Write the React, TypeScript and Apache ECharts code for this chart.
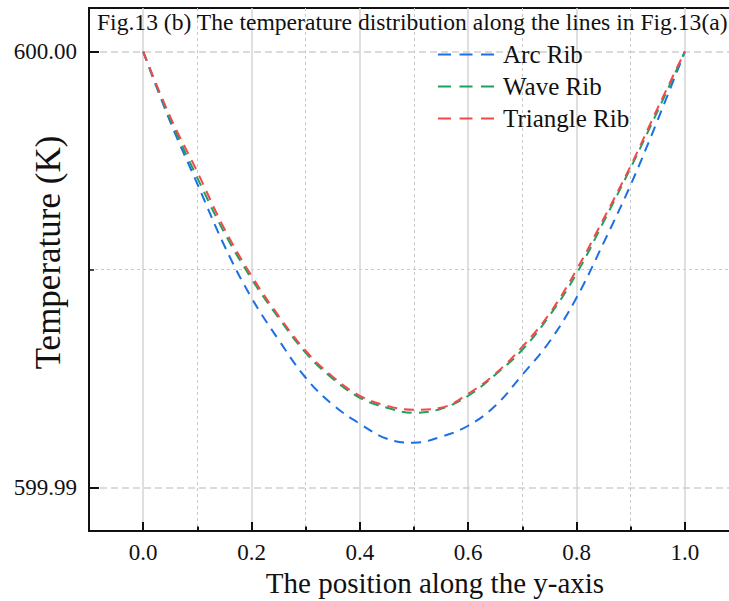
import React, { useEffect, useRef } from "react";
import * as echarts from "echarts";

const positions = [0, 0.05, 0.1, 0.15, 0.2, 0.25, 0.3, 0.35, 0.4, 0.45, 0.5, 0.55, 0.6, 0.65, 0.7, 0.75, 0.8, 0.85, 0.9, 0.95, 1.0];
const arcRib = [600.0, 599.998388, 599.996966, 599.995544, 599.994351, 599.993388, 599.992516, 599.991897, 599.991461, 599.991117, 599.991025, 599.991163, 599.991415, 599.991874, 599.992585, 599.993342, 599.994351, 599.995612, 599.996943, 599.998433, 600.0];
const waveRib = [600.0, 599.998445, 599.997103, 599.995842, 599.994787, 599.993892, 599.993089, 599.992493, 599.992057, 599.991828, 599.991713, 599.991805, 599.992103, 599.992585, 599.993158, 599.993938, 599.994901, 599.996094, 599.997333, 599.99864, 600.0];
const triangleRib = [600.0, 599.998502, 599.997241, 599.995933, 599.994856, 599.993938, 599.993135, 599.992539, 599.992103, 599.991874, 599.991782, 599.991828, 599.992149, 599.992608, 599.993227, 599.993984, 599.994993, 599.996163, 599.997378, 599.998709, 600.0];

const seriesNames = ["Arc Rib", "Wave Rib", "Triangle Rib"];
const seriesColors = ["#1C6FE6", "#1FA060", "#F24A4A"];

const xMajorTicks = [0, 0.2, 0.4, 0.6, 0.8, 1.0];
const xMinorTicks = [0.1, 0.3, 0.5, 0.7, 0.9];
const yMajorTicks = [599.99, 600.0];
const yMinorTicks = [599.995];

const titleText = "Fig.13 (b) The temperature distribution along the lines in Fig.13(a)";
const xName = "The position along the y-axis";
const yName = "Temperature (K)";

const FONT = "Liberation Serif";

export default function App() {
  const ref = useRef<HTMLDivElement>(null);
  useEffect(() => {
    if (!ref.current) return;
    const chart = echarts.init(ref.current, null, { renderer: "svg" });
    const all = [arcRib, waveRib, triangleRib];
    const baseX = {
      type: "value",
      min: -0.1,
      max: 1.1,
      position: "bottom",
      gridIndex: 0,
    };
    const baseY = {
      type: "value",
      min: 599.989,
      max: 600.001,
      position: "left",
      gridIndex: 0,
    };
    chart.setOption({
      animation: false,
      backgroundColor: "#ffffff",
      title: {
        text: titleText,
        left: 97,
        top: 10,
        padding: 0,
        textStyle: { fontFamily: FONT, fontSize: 23.6, fontWeight: "normal", color: "#111" },
      },
      legend: {
        orient: "vertical",
        left: 437,
        top: 42,
        itemWidth: 56,
        itemHeight: 14,
        itemGap: 7,
        padding: 0,
        data: seriesNames,
        itemStyle: { opacity: 0 },
        lineStyle: { type: [13, 8.5], width: 2 },
        textStyle: { fontFamily: FONT, fontSize: 25, color: "#111", lineHeight: 25, padding: [0, 0, 0, 4] },
      },
      grid: {
        left: 89,
        top: 8,
        right: -10,
        bottom: 70,
        show: true,
        borderColor: "#111",
        borderWidth: 2,
        containLabel: false,
        outerBoundsMode: "none",
      },
      xAxis: [
        {
          ...baseX,
          name: xName,
          nameLocation: "middle",
          nameGap: 37,
          nameMoveOverlap: false,
          nameTextStyle: { fontFamily: FONT, fontSize: 29, color: "#111", padding: [0, 0, 0, 42] },
          axisLine: { show: true, onZero: false, lineStyle: { color: "#111", width: 2 } },
          axisTick: { show: true, inside: true, length: 9, customValues: xMajorTicks, lineStyle: { color: "#111", width: 2 } },
          axisLabel: {
            customValues: xMajorTicks,
            margin: 10,
            fontFamily: FONT,
            fontSize: 23,
            color: "#111",
            formatter: (v: number) => v.toFixed(1),
          },
          splitLine: { show: true, lineStyle: { color: "#d4d4d4", width: 1.5, type: "solid" } },
        },
        {
          ...baseX,
          axisLine: { show: false, onZero: false },
          axisTick: { show: true, inside: true, length: 4.5, customValues: xMinorTicks, lineStyle: { color: "#111", width: 2 } },
          axisLabel: { show: false },
          splitLine: { show: true, lineStyle: { color: "#c8c8c8", width: 1, type: [3, 3] } },
        },
      ],
      yAxis: [
        {
          ...baseY,
          name: yName,
          nameLocation: "middle",
          nameGap: 23,
          nameMoveOverlap: false,
          nameTextStyle: { fontFamily: FONT, fontSize: 35, color: "#111", padding: [0, 0, 0, 34] },
          axisLine: { show: true, onZero: false, lineStyle: { color: "#111", width: 2 } },
          axisTick: { show: true, inside: true, length: 10, customValues: yMajorTicks, lineStyle: { color: "#111", width: 2 } },
          axisLabel: {
            customValues: yMajorTicks,
            margin: 12,
            fontFamily: FONT,
            fontSize: 23,
            color: "#111",
            formatter: (v: number) => v.toFixed(2),
          },
          splitLine: { show: true, lineStyle: { color: "#cfcfcf", width: 1.5, type: [7, 4] } },
        },
        {
          ...baseY,
          axisLine: { show: false, onZero: false },
          axisTick: { show: true, inside: true, length: 5, customValues: yMinorTicks, lineStyle: { color: "#111", width: 1.5 } },
          axisLabel: { show: false },
          splitLine: { show: true, lineStyle: { color: "#c8c8c8", width: 1, type: [3, 3] } },
        },
      ],
      series: all.map((vals, i) => ({
        name: seriesNames[i],
        type: "line",
        xAxisIndex: 0,
        yAxisIndex: 0,
        symbol: "none",
        smooth: 0.4,
        data: positions.map((p, j) => [p, vals[j]]),
        lineStyle: { color: seriesColors[i], width: 2, type: [10, 7] },
        itemStyle: { color: seriesColors[i] },
        z: 3 + i,
      })),
    });
    return () => chart.dispose();
  }, []);
  return (
    <div
      ref={ref}
      style={{ position: "fixed", left: 0, top: 0, width: 729, height: 601, overflow: "hidden" }}
    />
  );
}
